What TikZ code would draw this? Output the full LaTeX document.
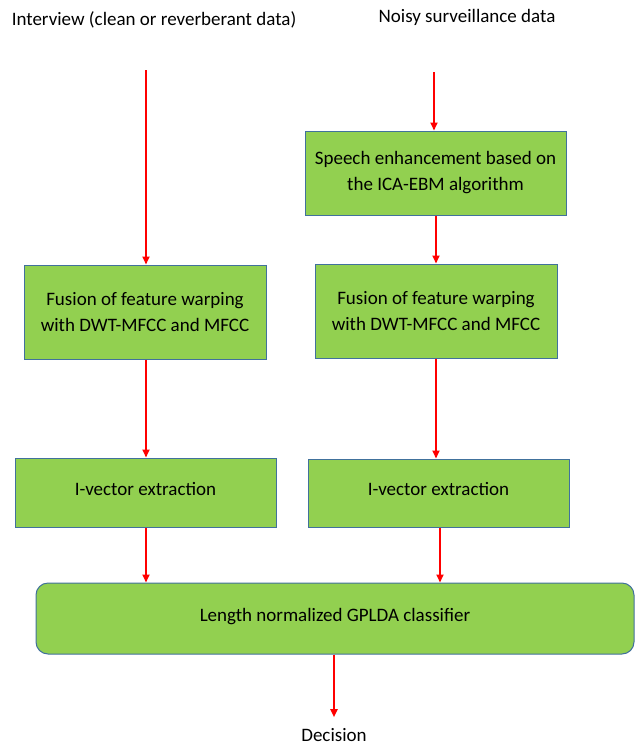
\documentclass[tikz,border=0pt]{standalone}
\usepackage{fontspec}
\setmainfont{Carlito}
\usepackage{xcolor}
\usetikzlibrary{arrows.meta,positioning}
\definecolor{boxgreen}{HTML}{92D050}
\definecolor{boxline}{HTML}{41719C}
\begin{document}
\begin{tikzpicture}[
  x=1pt, y=-1pt,
  stage/.style={draw=boxline, fill=boxgreen, line width=1pt, font=\fontsize{19}{26}\selectfont, align=center, inner sep=0pt},
  label/.style={font=\fontsize{19}{26}\selectfont, inner sep=0pt},
  arr/.style={-{Triangle[length=8pt, width=7pt]}, red, line width=1.8pt}
]
  \useasboundingbox (0,0) rectangle (635,745);

  % Inputs
  \node[label] (interview) at (154,20) {Interview (clean or reverberant data)};
  \node[label] (noisy) at (467,17) {Noisy surveillance data};
  \coordinate (startL) at (146,70);
  \coordinate (startR) at (434,72);

  % Enhancement
  \node[stage, minimum width=261pt, minimum height=84pt] (enhance) at (435.5,173) {Speech enhancement based on\\the ICA-EBM algorithm};

  % Feature fusion
  \node[stage, minimum width=242pt, minimum height=94pt] (fuseL) at (145,312) {Fusion of feature warping\\with DWT-MFCC and MFCC};
  \node[stage, minimum width=242pt, minimum height=94pt] (fuseR) at (436,311) {Fusion of feature warping\\with DWT-MFCC and MFCC};

  % I-vectors
  \node[stage, minimum width=261pt, minimum height=69pt, text depth=8pt] (ivecL) at (145.5,492.5) {I-vector extraction};
  \node[stage, minimum width=261pt, minimum height=68pt, text depth=8pt] (ivecR) at (438.5,493) {I-vector extraction};

  % Classifier
  \node[stage, rounded corners=12pt, minimum width=598pt, minimum height=71pt, text depth=8pt] (gplda) at (335,618.5) {Length normalized GPLDA classifier};

  % Output
  \node[label] (decision) at (334,735) {Decision};

  % Arrows
  \draw[arr] (startL) -- (startL |- fuseL.north);
  \draw[arr] (startR) -- (startR |- enhance.north);
  \draw[arr] ([xshift=0.5pt]enhance.south) -- ([xshift=0.5pt]enhance.south |- fuseR.north);
  \draw[arr] ([xshift=1pt]fuseL.south) -- ([xshift=1pt]fuseL.south |- ivecL.north);
  \draw[arr] (fuseR.south) -- (fuseR.south |- ivecR.north);
  \draw[arr] ([xshift=0.5pt]ivecL.south) -- ([xshift=0.5pt]ivecL.south |- gplda.north);
  \draw[arr] ([xshift=1.5pt]ivecR.south) -- ([xshift=1.5pt]ivecR.south |- gplda.north);
  \draw[arr] ([xshift=-1pt]gplda.south) -- ([yshift=11pt]decision.north);
\end{tikzpicture}
\end{document}
